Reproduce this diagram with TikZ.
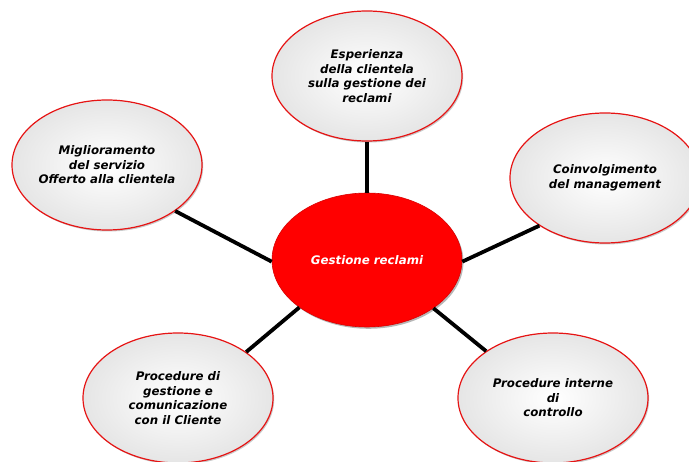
\documentclass[tikz,border=0pt]{standalone}
\usepackage{fontspec}
\setmainfont{DejaVu Sans}
\usetikzlibrary{shapes.geometric,shadows}
\definecolor{rimred}{RGB}{230,20,20}
\definecolor{hubred}{RGB}{255,0,0}
\tikzset{
  bubble/.style={ellipse, draw=rimred, line width=1.2pt, minimum width=190pt, minimum height=130pt,
    inner sep=0pt, align=center, font=\fontsize{11.8}{14.5}\selectfont\bfseries\itshape,
    inner color=white, outer color=black!10,
    drop shadow={shadow xshift=1.2pt, shadow yshift=-1.5pt, opacity=0.35, fill=black!60}},
  hub/.style={ellipse, draw=hubred!85!black, line width=0.6pt, fill=hubred, minimum width=190pt, minimum height=134pt,
    inner sep=0pt, align=center, text=white, font=\fontsize{11.8}{14}\selectfont\bfseries\itshape,
    drop shadow={shadow xshift=1.5pt, shadow yshift=-1.8pt, opacity=0.4, fill=black!70}},
  spoke/.style={line width=3.8pt, black}
}
\begin{document}
\begin{tikzpicture}[x=1pt,y=-1pt]
\useasboundingbox (0,0) rectangle (689,462);
\clip (0,0) rectangle (689,462);
\node[hub] (c) at (367,260) {Gestione reclami};
\node[bubble] (t) at (367,76) {Esperienza\\della clientela\\sulla gestione dei\\reclami};
\node[bubble, inner xsep=-6pt] (l) at (107,165) {Miglioramento\\del servizio\\Offerto alla clientela};
\node[bubble] (r) at (605,178) {Coinvolgimento\\del management};
\node[bubble] (bl) at (178,398) {Procedure di\\gestione e\\comunicazione\\con il Cliente};
\node[bubble] (br) at (553,398) {Procedure interne\\di\\controllo};
\draw[spoke] (t.south) -- (c.north);
\draw[spoke] (l.-34) -- (c.181);
\draw[spoke] (c.-1) -- (r.216);
\draw[spoke] (bl.34) -- (c.215);
\draw[spoke] (c.-36) -- (br.145);
\end{tikzpicture}
\end{document}
